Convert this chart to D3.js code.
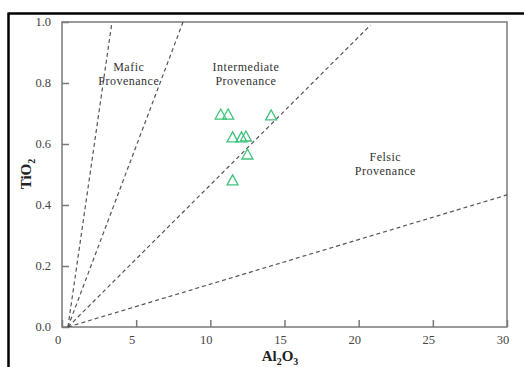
<!DOCTYPE html>
<html>
<head>
<meta charset="utf-8">
<script src="https://cdn.jsdelivr.net/npm/d3@7"></script>
<style>
  body { margin: 0; background: #fff; }
  svg { display: block; }
</style>
</head>
<body>
<div id="chart"></div>
<script>
// Sample points: Al2O3 vs TiO2 (wt%)
const al2o3 = [10.7, 11.2, 14.1, 11.5, 12.1, 12.4, 12.5, 11.5];
const tio2 = [0.695, 0.695, 0.692, 0.62, 0.62, 0.623, 0.564, 0.479];

// Provenance boundary lines (start and end points)
const lineX0 = [0.4, 0.4, 0.4, 0.4];
const lineY0 = [0, 0, 0, 0];
const lineX1 = [3.37, 8.16, 20.8, 30];
const lineY1 = [1.0, 1.0, 0.99, 0.433];

// Field labels
const fieldNames = [['Mafic', 'Provenance'], ['Intermediate', 'Provenance'], ['Felsic', 'Provenance']];
const fieldX = [4.5, 12.4, 21.8];
const fieldY = [0.84, 0.84, 0.545];

const xTicks = [0, 5, 10, 15, 20, 25, 30];
const yTicks = [0.0, 0.2, 0.4, 0.6, 0.8, 1.0];

const FONT = '"Liberation Serif", "Times New Roman", serif';
const W = 524, H = 367;
const margin = { top: 22, right: 17, bottom: 40, left: 62 };
const width = W - margin.left - margin.right;
const height = H - margin.top - margin.bottom;

const svg = d3.select('#chart').append('svg')
  .attr('width', W)
  .attr('height', H);

// outer frame (top and left edges)
svg.append('line').attr('x1', 8.5).attr('x2', W).attr('y1', 13.5).attr('y2', 13.5)
  .attr('stroke', '#000').attr('stroke-width', 2.5);
svg.append('line').attr('x1', 8.5).attr('x2', 8.5).attr('y1', 12.5).attr('y2', H)
  .attr('stroke', '#000').attr('stroke-width', 2.5);

const g = svg.append('g')
  .attr('transform', 'translate(' + margin.left + ',' + margin.top + ')');

const x = d3.scaleLinear().domain([0, 30]).range([0, width]);
const y = d3.scaleLinear().domain([0, 1]).range([height, 0]);

// plot box
g.append('rect')
  .attr('width', width)
  .attr('height', height)
  .attr('fill', 'none')
  .attr('stroke', '#7a7a7a')
  .attr('stroke-width', 1.5);

// axes with inward ticks
const xAxis = g.append('g')
  .attr('transform', 'translate(0,' + height + ')')
  .call(d3.axisTop(x).tickValues(xTicks).tickSize(7).tickFormat(''));
const yAxis = g.append('g')
  .call(d3.axisRight(y).tickValues(yTicks).tickSize(7).tickFormat(''));
[xAxis, yAxis].forEach(a => {
  a.select('.domain').remove();
  a.selectAll('line').attr('stroke', '#7a7a7a').attr('stroke-width', 1.5);
});

g.append('g').selectAll('text')
  .data(xTicks)
  .join('text')
  .attr('x', d => x(d) - 4)
  .attr('y', height + 17)
  .attr('text-anchor', 'middle')
  .style('font-family', FONT)
  .style('font-size', '12.5px')
  .style('fill', '#444')
  .text(d => d);

g.append('g').selectAll('text')
  .data(yTicks)
  .join('text')
  .attr('x', -11)
  .attr('y', d => y(d))
  .attr('dy', '0.35em')
  .attr('text-anchor', 'end')
  .style('font-family', FONT)
  .style('font-size', '12.5px')
  .style('fill', '#444')
  .text(d => d.toFixed(1));

// boundary lines
g.append('g').selectAll('line')
  .data(lineX1)
  .join('line')
  .attr('x1', (d, i) => x(lineX0[i]))
  .attr('y1', (d, i) => y(lineY0[i]))
  .attr('x2', (d, i) => x(lineX1[i]))
  .attr('y2', (d, i) => y(lineY1[i]))
  .attr('stroke', '#555')
  .attr('stroke-width', 1.2)
  .attr('stroke-dasharray', '4,3');

// field labels
fieldNames.forEach((lines, i) => {
  const t = g.append('text')
    .attr('x', x(fieldX[i]))
    .attr('y', y(fieldY[i]))
    .attr('text-anchor', 'middle')
    .style('font-family', FONT)
    .style('font-size', '12px')
    .style('letter-spacing', '0.5px')
    .style('fill', '#333');
  lines.forEach((s, j) => {
    t.append('tspan')
      .attr('x', x(fieldX[i]))
      .attr('dy', j === 0 ? 0 : 14)
      .text(s);
  });
});

// triangle markers
const tri = 'M0,-6L5.5,4L-5.5,4Z';
g.append('g').selectAll('path')
  .data(al2o3)
  .join('path')
  .attr('d', tri)
  .attr('transform', (d, i) => 'translate(' + x(d) + ',' + y(tio2[i]) + ')')
  .attr('fill', 'none')
  .attr('stroke', '#3cc47a')
  .attr('stroke-width', 1.3);

// axis titles
const xt = svg.append('text')
  .attr('x', 280)
  .attr('y', 361)
  .attr('text-anchor', 'middle')
  .style('font-family', FONT)
  .style('font-size', '15px')
  .style('font-weight', 'bold')
  .style('fill', '#222');
xt.append('tspan').text('Al');
xt.append('tspan').attr('dy', 4).style('font-size', '10px').text('2');
xt.append('tspan').attr('dy', -4).text('O');
xt.append('tspan').attr('dy', 4).style('font-size', '10px').text('3');

const yt = svg.append('text')
  .attr('transform', 'translate(31,174) rotate(-90)')
  .attr('text-anchor', 'middle')
  .style('font-family', FONT)
  .style('font-size', '15px')
  .style('font-weight', 'bold')
  .style('fill', '#222');
yt.append('tspan').text('TiO');
yt.append('tspan').attr('dy', 4).style('font-size', '10px').text('2');
</script>
</body>
</html>
